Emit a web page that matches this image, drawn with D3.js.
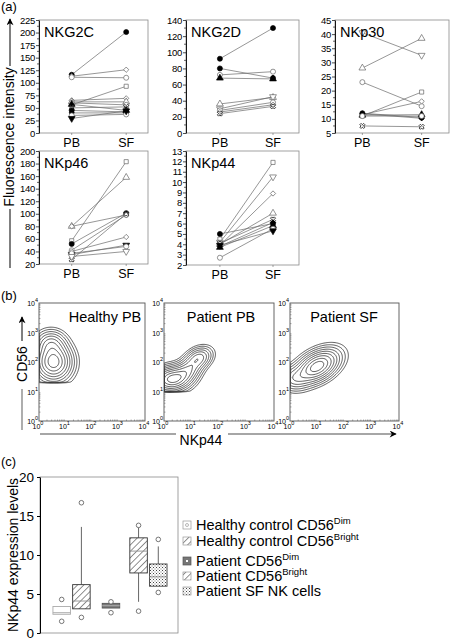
<!DOCTYPE html>
<html><head><meta charset="utf-8">
<script src="https://cdn.jsdelivr.net/npm/d3@7"></script>
<style>
body{margin:0;background:#fff}
svg{display:block}
text{font-family:"Liberation Sans",Arial,Helvetica,sans-serif;fill:#000}
</style>
</head><body>
<svg id="fig" width="454" height="642"></svg>
<script>
// ================= DATA =================
// Panel (a): paired PB / SF values per donor
const timepoints = ["PB", "SF"];

const nkg2cPB    = [116, 113, 111, 56, 65, 62, 60, 57, 50, 45, 40, 35, 29];
const nkg2cSF    = [201, 126, 110, 93, 69, 62, 56, 45, 52, 42, 40, 37, 44];
const nkg2cMarks = ["circleF","diamond","circle","square","diamond","triangle","circle","triangleF","cross","circleF","diamondF","circle","triangleDownF"];
const nkg2cTicks = [0, 25, 50, 75, 100, 125, 150, 175, 200, 225];

const nkg2dPB    = [92, 80, 72, 68, 36, 30, 28, 26, 24];
const nkg2dSF    = [130, 68, 76, 67, 44, 45, 38, 35, 33];
const nkg2dMarks = ["circleF","circleF","circle","triangleF","triangle","triangleDown","circle","diamond","cross"];
const nkg2dTicks = [0, 20, 40, 60, 80, 100, 120, 140];

const nkp30PB    = [40.5, 28, 23, 11, 11.5, 12, 11.8, 11.3, 11, 7.5];
const nkp30SF    = [32.5, 38.5, 14.5, 19.5, 16.2, 10.5, 10.2, 11.5, 11, 7.2];
const nkp30Marks = ["triangleDown","triangle","circle","square","diamond","circleF","diamondF","triangleF","circle","cross"];
const nkp30Ticks = [5, 10, 15, 20, 25, 30, 35, 40, 45];

const nkp46PB    = [57, 80, 80, 52, 42, 27, 40, 35, 37, 32];
const nkp46SF    = [183, 158, 98, 101, 98, 100, 63, 50, 48, 40];
const nkp46Marks = ["square","triangle","diamond","circleF","circle","cross","diamond","triangleDownF","circle","triangleDown"];
const nkp46Ticks = [20, 40, 60, 80, 100, 120, 140, 160, 180, 200];

const nkp44PB    = [4.5, 4.2, 3.9, 4.0, 5.0, 4.1, 3.8, 3.7, 2.7, 3.9];
const nkp44SF    = [11.9, 10.5, 8.9, 7.0, 6.0, 6.4, 6.1, 5.8, 5.5, 5.3];
const nkp44Marks = ["square","triangleDown","diamond","triangle","circleF","cross","diamondF","triangleF","circle","triangleDownF"];
const nkp44Ticks = [2, 3, 4, 5, 6, 7, 8, 9, 10, 11, 12, 13];

// Panel (b): flow-cytometry contour populations, components in log10 units
// [centre x, centre y, spread x, spread y, correlation, weight]
const flowTitles = ["Healthy PB", "Patient PB", "Patient SF"];
const healthyComps = [[0.55, 2.0, 0.36, 0.34, 0.0, 1.0], [0.45, 2.62, 0.3, 0.24, 0.0, 0.35]];
const patientPBComps = [[0.3, 1.42, 0.36, 0.22, 0.1, 1.0], [0.85, 1.7, 0.28, 0.22, 0.3, 0.45], [1.25, 2.12, 0.26, 0.2, 0.3, 0.45]];
const patientSFComps = [[1.0, 1.85, 0.42, 0.3, 0.45, 1.0], [0.15, 1.45, 0.3, 0.22, 0.0, 0.25]];
const flowFloors = [1.33, 1.02, 0.0];
const flowDecades = [0, 1, 2, 3, 4];

// Panel (c): box plot statistics
const boxGroups  = ["Healthy control CD56Dim","Healthy control CD56Bright","Patient CD56Dim","Patient CD56Bright","Patient SF NK cells"];
const boxMin     = [2.4, 3.1, 3.2, 4.0, 6.0];
const boxQ1      = [2.4, 3.1, 3.2, 7.7, 6.0];
const boxMedian  = [2.6, 4.1, 3.5, 10.5, 7.2];
const boxQ3      = [3.4, 6.2, 3.8, 12.2, 8.85];
const boxMax     = [3.4, 13.6, 3.8, 13.8, 11.1];
const boxOutliers = [[4.3, 1.5], [16.7, 2.0], [4.0, 2.6], [13.8, 2.8], [12.0, 5.2]];
const boxTicks   = [0, 5, 10, 15, 20];

// ================= DRAW =================
const svg = d3.select("#fig");
svg.append("rect").attr("width", 454).attr("height", 642).attr("fill", "#fff");
const defs = svg.append("defs");

// patterns
const hatch = defs.append("pattern").attr("id", "hatch").attr("patternUnits", "userSpaceOnUse")
  .attr("width", 4.5).attr("height", 4.5).attr("patternTransform", "rotate(45)");
hatch.append("rect").attr("width", 4.5).attr("height", 4.5).attr("fill", "#fff");
hatch.append("line").attr("x1", 0).attr("y1", 0).attr("x2", 0).attr("y2", 4.5).attr("stroke", "#222").attr("stroke-width", 1);
const dots = defs.append("pattern").attr("id", "dots").attr("patternUnits", "userSpaceOnUse")
  .attr("width", 3).attr("height", 3);
dots.append("rect").attr("width", 3).attr("height", 3).attr("fill", "#fff");
dots.append("rect").attr("x", 0).attr("y", 0).attr("width", 1).attr("height", 1).attr("fill", "#444");
dots.append("rect").attr("x", 1.5).attr("y", 1.5).attr("width", 1).attr("height", 1).attr("fill", "#777");
const arrowM = defs.append("marker").attr("id", "arr").attr("viewBox", "0 0 10 10").attr("refX", 9).attr("refY", 5)
  .attr("markerWidth", 9).attr("markerHeight", 7).attr("markerUnits", "userSpaceOnUse").attr("orient", "auto");
arrowM.append("path").attr("d", "M0,0 L10,5 L0,10 L3,5 Z").attr("fill", "#000");

function marker(g, type, x, y) {
  const filled = type.endsWith("F");
  const base = filled ? type.slice(0, -1) : type;
  let sym = d3.symbolCircle, size = 20, rot = 0, strokeOnly = false;
  if (base === "square") { sym = d3.symbolSquare; size = 17; }
  else if (base === "diamond") { sym = d3.symbolSquare; size = 14; rot = 45; }
  else if (base === "triangle") { sym = d3.symbolTriangle; size = 20; }
  else if (base === "triangleDown") { sym = d3.symbolTriangle; size = 20; rot = 180; }
  else if (base === "cross") { sym = d3.symbolCross; size = 16; rot = 45; strokeOnly = true; }
  g.append("path").attr("d", d3.symbol(sym, size)())
    .attr("transform", `translate(${x},${y}) rotate(${rot})`)
    .attr("fill", strokeOnly ? "none" : (filled ? "#000" : "#fff"))
    .attr("stroke", strokeOnly ? "#333" : (filled ? "#000" : "#666"))
    .attr("stroke-width", strokeOnly ? 0.9 : 0.7);
}

// ----- Panel (a) -----
svg.append("text").attr("x", 1).attr("y", 11).attr("font-size", 13).text("(a)");

const aPanels = [
  {title: "NKG2C", pb: nkg2cPB, sf: nkg2cSF, mk: nkg2cMarks, ticks: nkg2cTicks, x0: 39, x1: 148, y0: 20, y1: 133, fx: [0.30, 0.80]},
  {title: "NKG2D", pb: nkg2dPB, sf: nkg2dSF, mk: nkg2dMarks, ticks: nkg2dTicks, x0: 186, x1: 299, y0: 20, y1: 133, fx: [0.30, 0.77]},
  {title: "NKp30", pb: nkp30PB, sf: nkp30SF, mk: nkp30Marks, ticks: nkp30Ticks, x0: 335, x1: 449, y0: 20, y1: 133, fx: [0.24, 0.76]},
  {title: "NKp46", pb: nkp46PB, sf: nkp46SF, mk: nkp46Marks, ticks: nkp46Ticks, x0: 39, x1: 148, y0: 151, y1: 264, fx: [0.30, 0.80]},
  {title: "NKp44", pb: nkp44PB, sf: nkp44SF, mk: nkp44Marks, ticks: nkp44Ticks, x0: 186, x1: 299, y0: 151, y1: 265, fx: [0.30, 0.77]},
];

aPanels.forEach(p => {
  const g = svg.append("g");
  const t = p.ticks;
  const y = d3.scaleLinear().domain([t[0], t[t.length - 1]]).range([p.y1, p.y0]);
  const x = d3.scalePoint().domain(timepoints).range([p.x0 + p.fx[0] * (p.x1 - p.x0), p.x0 + p.fx[1] * (p.x1 - p.x0)]);
  g.append("rect").attr("x", p.x0).attr("y", p.y0).attr("width", p.x1 - p.x0).attr("height", p.y1 - p.y0)
    .attr("fill", "none").attr("stroke", "#8a8a8a").attr("stroke-width", 0.8);
  const minor = d3.range(t.length - 1).map(i => (t[i] + t[i + 1]) / 2);
  g.selectAll(".mn").data(minor).join("line")
    .attr("x1", p.x0 - 2).attr("x2", p.x0).attr("y1", d => y(d)).attr("y2", d => y(d)).attr("stroke", "#000").attr("stroke-width", 0.6);
  const ax = g.append("g").attr("transform", `translate(${p.x0},0)`)
    .call(d3.axisLeft(y).tickValues(t).tickSize(3).tickPadding(1).tickSizeOuter(0));
  ax.select(".domain").attr("stroke", "#000").attr("stroke-width", 0.9);
  ax.selectAll(".tick line").attr("stroke-width", 0.7);
  ax.selectAll("text").attr("font-size", 9.5).attr("font-family", "Liberation Sans, Arial, sans-serif").attr("letter-spacing", -0.3);
  g.selectAll(".bt").data(timepoints).join("line")
    .attr("x1", d => x(d)).attr("x2", d => x(d)).attr("y1", p.y1).attr("y2", p.y1 + 2).attr("stroke", "#666").attr("stroke-width", 0.6);
  g.selectAll(".bl").data(timepoints).join("text")
    .attr("x", d => x(d)).attr("y", p.y1 + 14).attr("text-anchor", "middle").attr("font-size", 12.5).text(d => d);
  p.pb.forEach((v, i) => {
    g.append("line").attr("x1", x("PB")).attr("y1", y(v)).attr("x2", x("SF")).attr("y2", y(p.sf[i]))
      .attr("stroke", "#6a6a6a").attr("stroke-width", 0.7);
  });
  p.pb.forEach((v, i) => {
    marker(g, p.mk[i], x("PB"), y(v));
    marker(g, p.mk[i], x("SF"), y(p.sf[i]));
  });
  g.append("text").attr("x", p.x0 + 5).attr("y", p.y0 + 17).attr("font-size", 14.5).text(p.title);
});

svg.append("text").attr("transform", "translate(14,137) rotate(-90)").attr("text-anchor", "middle")
  .attr("font-size", 14).text("Fluorescence intensity");
svg.append("line").attr("x1", 10).attr("y1", 66).attr("x2", 10).attr("y2", 19).attr("stroke", "#000").attr("stroke-width", 1).attr("marker-end", "url(#arr)");
svg.append("line").attr("x1", 10).attr("y1", 209).attr("x2", 10).attr("y2", 268).attr("stroke", "#000").attr("stroke-width", 1);

// ----- Panel (b) -----
svg.append("text").attr("x", 1).attr("y", 300).attr("font-size", 13).text("(b)");

const flowBoxes = [
  {x0: 39, x1: 145, comps: healthyComps, floor: flowFloors[0], tx: 105},
  {x0: 164, x1: 274, comps: patientPBComps, floor: flowFloors[1], tx: 221},
  {x0: 290, x1: 399, comps: patientSFComps, floor: flowFloors[2], tx: 344},
];
const fy0 = 303, fy1 = 421;
const N = 120;
const levels = [0.025, 0.05, 0.09, 0.15, 0.23, 0.34, 0.48, 0.66, 0.85];

flowBoxes.forEach((b, k) => {
  const g = svg.append("g");
  const xs = d3.scaleLinear().domain([0, 4]).range([b.x0, b.x1]);
  const ys = d3.scaleLinear().domain([0, 4]).range([fy1, fy0]);
  const vals = new Array(N * N);
  for (let j = 0; j < N; j++) {
    for (let i = 0; i < N; i++) {
      const lx = (i + 0.5) / N * 4, ly = (j + 0.5) / N * 4;
      let d = 0;
      b.comps.forEach(c => {
        const dx = (lx - c[0]) / c[2], dy = (ly - c[1]) / c[3], r = c[4];
        d += c[5] * Math.exp(-0.5 * (dx * dx - 2 * r * dx * dy + dy * dy) / (1 - r * r));
      });
      if (ly < b.floor) d *= Math.exp(-Math.pow((b.floor - ly) / 0.035, 2));
      vals[i + j * N] = d;
    }
  }
  const mx = d3.max(vals);
  const cs = d3.contours().size([N, N]).thresholds(levels.map(l => l * mx))(vals);
  const clipId = "clip" + k;
  defs.append("clipPath").attr("id", clipId).append("rect")
    .attr("x", b.x0).attr("y", fy0).attr("width", b.x1 - b.x0).attr("height", fy1 - fy0);
  const proj = d3.geoTransform({point: function(px, py) { this.stream.point(xs(px / N * 4), ys(py / N * 4)); }});
  const path = d3.geoPath(proj);
  g.append("g").attr("clip-path", `url(#${clipId})`).selectAll("path").data(cs).join("path")
    .attr("d", path).attr("fill", "none").attr("stroke", "#222").attr("stroke-width", 0.75);
  g.append("rect").attr("x", b.x0).attr("y", fy0).attr("width", b.x1 - b.x0).attr("height", fy1 - fy0)
    .attr("fill", "none").attr("stroke", "#555").attr("stroke-width", 0.9);
  const minorT = [];
  flowDecades.slice(0, 4).forEach(dd => { for (let m = 2; m < 10; m++) minorT.push(dd + Math.log10(m)); });
  g.selectAll(".mx").data(minorT).join("line").attr("x1", d => xs(d)).attr("x2", d => xs(d))
    .attr("y1", fy1).attr("y2", fy1 - 1.5).attr("stroke", "#555").attr("stroke-width", 0.5);
  g.selectAll(".my").data(minorT).join("line").attr("y1", d => ys(d)).attr("y2", d => ys(d))
    .attr("x1", b.x0).attr("x2", b.x0 + 1.5).attr("stroke", "#555").attr("stroke-width", 0.5);
  flowDecades.forEach(dd => {
    const ty = g.append("text").attr("x", b.x0 - 1).attr("y", ys(dd) + 3).attr("text-anchor", "end").attr("font-size", 7);
    ty.append("tspan").text("10");
    ty.append("tspan").attr("dy", -4).attr("font-size", 5.5).text(dd);
    const tx = g.append("text").attr("x", xs(dd) - 1).attr("y", fy1 + 8).attr("text-anchor", "middle").attr("font-size", 7);
    tx.append("tspan").text("10");
    tx.append("tspan").attr("dy", -4).attr("font-size", 5.5).text(dd);
  });
  g.append("text").attr("x", b.tx).attr("y", 322).attr("text-anchor", "middle").attr("font-size", 14.5).text(flowTitles[k]);
});

svg.append("text").attr("transform", "translate(27,364) rotate(-90)").attr("text-anchor", "middle").attr("font-size", 14).text("CD56");
svg.append("line").attr("x1", 22).attr("y1", 341).attr("x2", 22).attr("y2", 317).attr("stroke", "#000").attr("stroke-width", 1).attr("marker-end", "url(#arr)");
svg.append("line").attr("x1", 22).attr("y1", 389).attr("x2", 22).attr("y2", 430).attr("stroke", "#777").attr("stroke-width", 1.2);
svg.append("text").attr("x", 201).attr("y", 445).attr("text-anchor", "middle").attr("font-size", 14).text("NKp44");
svg.append("line").attr("x1", 40).attr("y1", 434).attr("x2", 176).attr("y2", 434).attr("stroke", "#888").attr("stroke-width", 1.3);
svg.append("line").attr("x1", 228).attr("y1", 434).attr("x2", 396).attr("y2", 434).attr("stroke", "#888").attr("stroke-width", 1.3).attr("marker-end", "url(#arr)");

// ----- Panel (c) -----
svg.append("text").attr("x", 1).attr("y", 466).attr("font-size", 13).text("(c)");
const cx0 = 40, cx1 = 178, cy0 = 477, cy1 = 633;
const yC = d3.scaleLinear().domain([0, 20]).range([cy1, cy0]);
const boxPos = [1.1, 2.1, 3.6, 5.0, 6.0];
const xC = d3.scaleLinear().domain([0, 7]).range([cx0, cx1]);
const bw = 17.5;
const boxFill = ["#fff", "url(#hatch)", "#777", "url(#hatch)", "url(#dots)"];
const boxStroke = ["#aaa", "#333", "#555", "#333", "#444"];
const medStroke = ["#aaa", "#999", "#aaa", "#999", "#999"];

svg.append("rect").attr("x", cx0).attr("y", cy0).attr("width", cx1 - cx0).attr("height", cy1 - cy0)
  .attr("fill", "none").attr("stroke", "#8a8a8a").attr("stroke-width", 0.8);
const axC = svg.append("g").attr("transform", `translate(${cx0},0)`)
  .call(d3.axisLeft(yC).tickValues(boxTicks).tickSize(3).tickPadding(3).tickSizeOuter(0));
axC.select(".domain").attr("stroke", "#000");
axC.selectAll("text").attr("font-size", 13.5).attr("font-family", "Liberation Sans, Arial, sans-serif");
svg.append("text").attr("transform", "translate(18,555) rotate(-90)").attr("text-anchor", "middle")
  .attr("font-size", 14).text("NKp44 expression levels");

boxGroups.forEach((gname, i) => {
  const cx = xC(boxPos[i]);
  const g = svg.append("g");
  g.append("line").attr("x1", cx).attr("x2", cx).attr("y1", yC(boxMax[i])).attr("y2", yC(boxQ3[i])).attr("stroke", "#555").attr("stroke-width", 0.9);
  g.append("line").attr("x1", cx).attr("x2", cx).attr("y1", yC(boxQ1[i])).attr("y2", yC(boxMin[i])).attr("stroke", "#555").attr("stroke-width", 0.9);
  g.append("rect").attr("x", cx - bw / 2).attr("y", yC(boxQ3[i])).attr("width", bw)
    .attr("height", Math.max(1, yC(boxQ1[i]) - yC(boxQ3[i])))
    .attr("fill", boxFill[i]).attr("stroke", boxStroke[i]).attr("stroke-width", 0.9);
  g.append("line").attr("x1", cx - bw / 2).attr("x2", cx + bw / 2).attr("y1", yC(boxMedian[i])).attr("y2", yC(boxMedian[i]))
    .attr("stroke", medStroke[i]).attr("stroke-width", 1);
  boxOutliers[i].forEach(o => {
    g.append("circle").attr("cx", cx).attr("cy", yC(o)).attr("r", 2.3).attr("fill", "#fff").attr("stroke", "#555").attr("stroke-width", 0.8);
  });
});

// legend
const legY = [525, 541, 561, 576, 591];
const legMain = ["Healthy control CD56", "Healthy control CD56", "Patient CD56", "Patient CD56", "Patient SF NK cells"];
const legSup = ["Dim", "Bright", "Dim", "Bright", ""];
boxGroups.forEach((gname, i) => {
  const ly = legY[i];
  svg.append("rect").attr("x", 183).attr("y", ly - 4).attr("width", 8).attr("height", 8)
    .attr("fill", boxFill[i]).attr("stroke", i === 2 ? "#555" : "#999").attr("stroke-width", 0.7);
  if (i === 0) svg.append("circle").attr("cx", 187).attr("cy", ly).attr("r", 1.5).attr("fill", "none").attr("stroke", "#888").attr("stroke-width", 0.6);
  if (i === 2) svg.append("rect").attr("x", 186).attr("y", ly - 1).attr("width", 2).attr("height", 2).attr("fill", "#fff");
  const t = svg.append("text").attr("x", 196).attr("y", ly + 5).attr("font-size", 14.5);
  t.append("tspan").text(legMain[i]);
  if (legSup[i]) t.append("tspan").attr("dy", -6).attr("font-size", 9.5).text(legSup[i]);
});
</script>
</body></html>
